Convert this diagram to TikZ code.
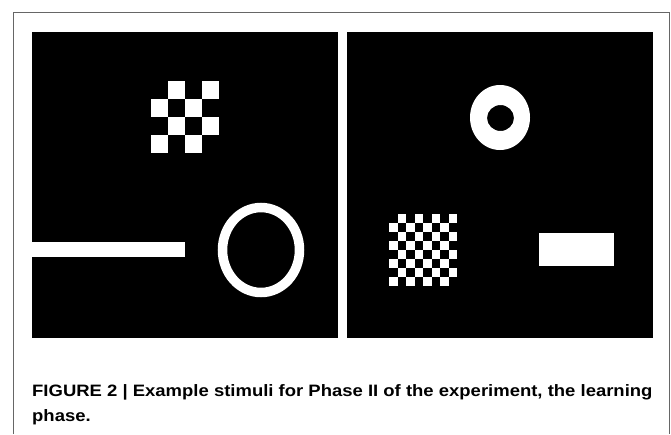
\documentclass[tikz,border=0pt]{standalone}
\usepackage{fontspec}
\setmainfont{Liberation Sans}[FakeStretch=1.12]
\begin{document}
\begin{tikzpicture}[x=1pt,y=-1pt]
\useasboundingbox (0,0) rectangle (671,434);
\def\kw{306}
% Rahmen
\draw[line width=1pt,color=gray!80!black] (13.5,434)--(13.5,12)--(669,12)--(669,434);

% die beiden Tafeln
\coordinate (L) at (32,32);
\coordinate (R) at (347.3,32);
\fill[black] (L) rectangle +(\kw,\kw);
\fill[black] (R) rectangle +(\kw,\kw);

\def\brett#1#2#3#4{%
\foreach \i in {0,...,#4} {
\foreach \j in {0,...,#4} {
	\pgfmathtruncatemacro\s{mod(\i+\j,2)}
	\ifnum\s=1
	\fill[white] #1 ++({\i*#2},{\j*#3}) rectangle ++(#2,#3);
	\fi
}}
}

% linke Tafel
\brett{(151,81)}{17}{18}{3}
\fill[white] (32,242) rectangle (185,257);
\draw[white,line width=9.5pt] (261,250) ellipse[x radius=38.5,y radius=42.5];

% rechte Tafel
\fill[white,even odd rule] (500,117.5) ellipse[x radius=30,y radius=32.5]
	(500.5,118) ellipse[x radius=13.5,y radius=13];
\brett{(389.3,214)}{8.5}{9}{7}
\fill[white] (539,233) rectangle (614,266);

\node[anchor=base west,inner sep=0pt,font=\bfseries\fontsize{16.5}{20}\selectfont] (cap1) at (32,396.5)
	{FIGURE 2 | Example stimuli for Phase II of the experiment, the learning};
\node[anchor=base west,inner sep=0pt,font=\bfseries\fontsize{16.5}{20}\selectfont] (cap2) at (32,421)
	{phase.};

\end{tikzpicture}
\end{document}
